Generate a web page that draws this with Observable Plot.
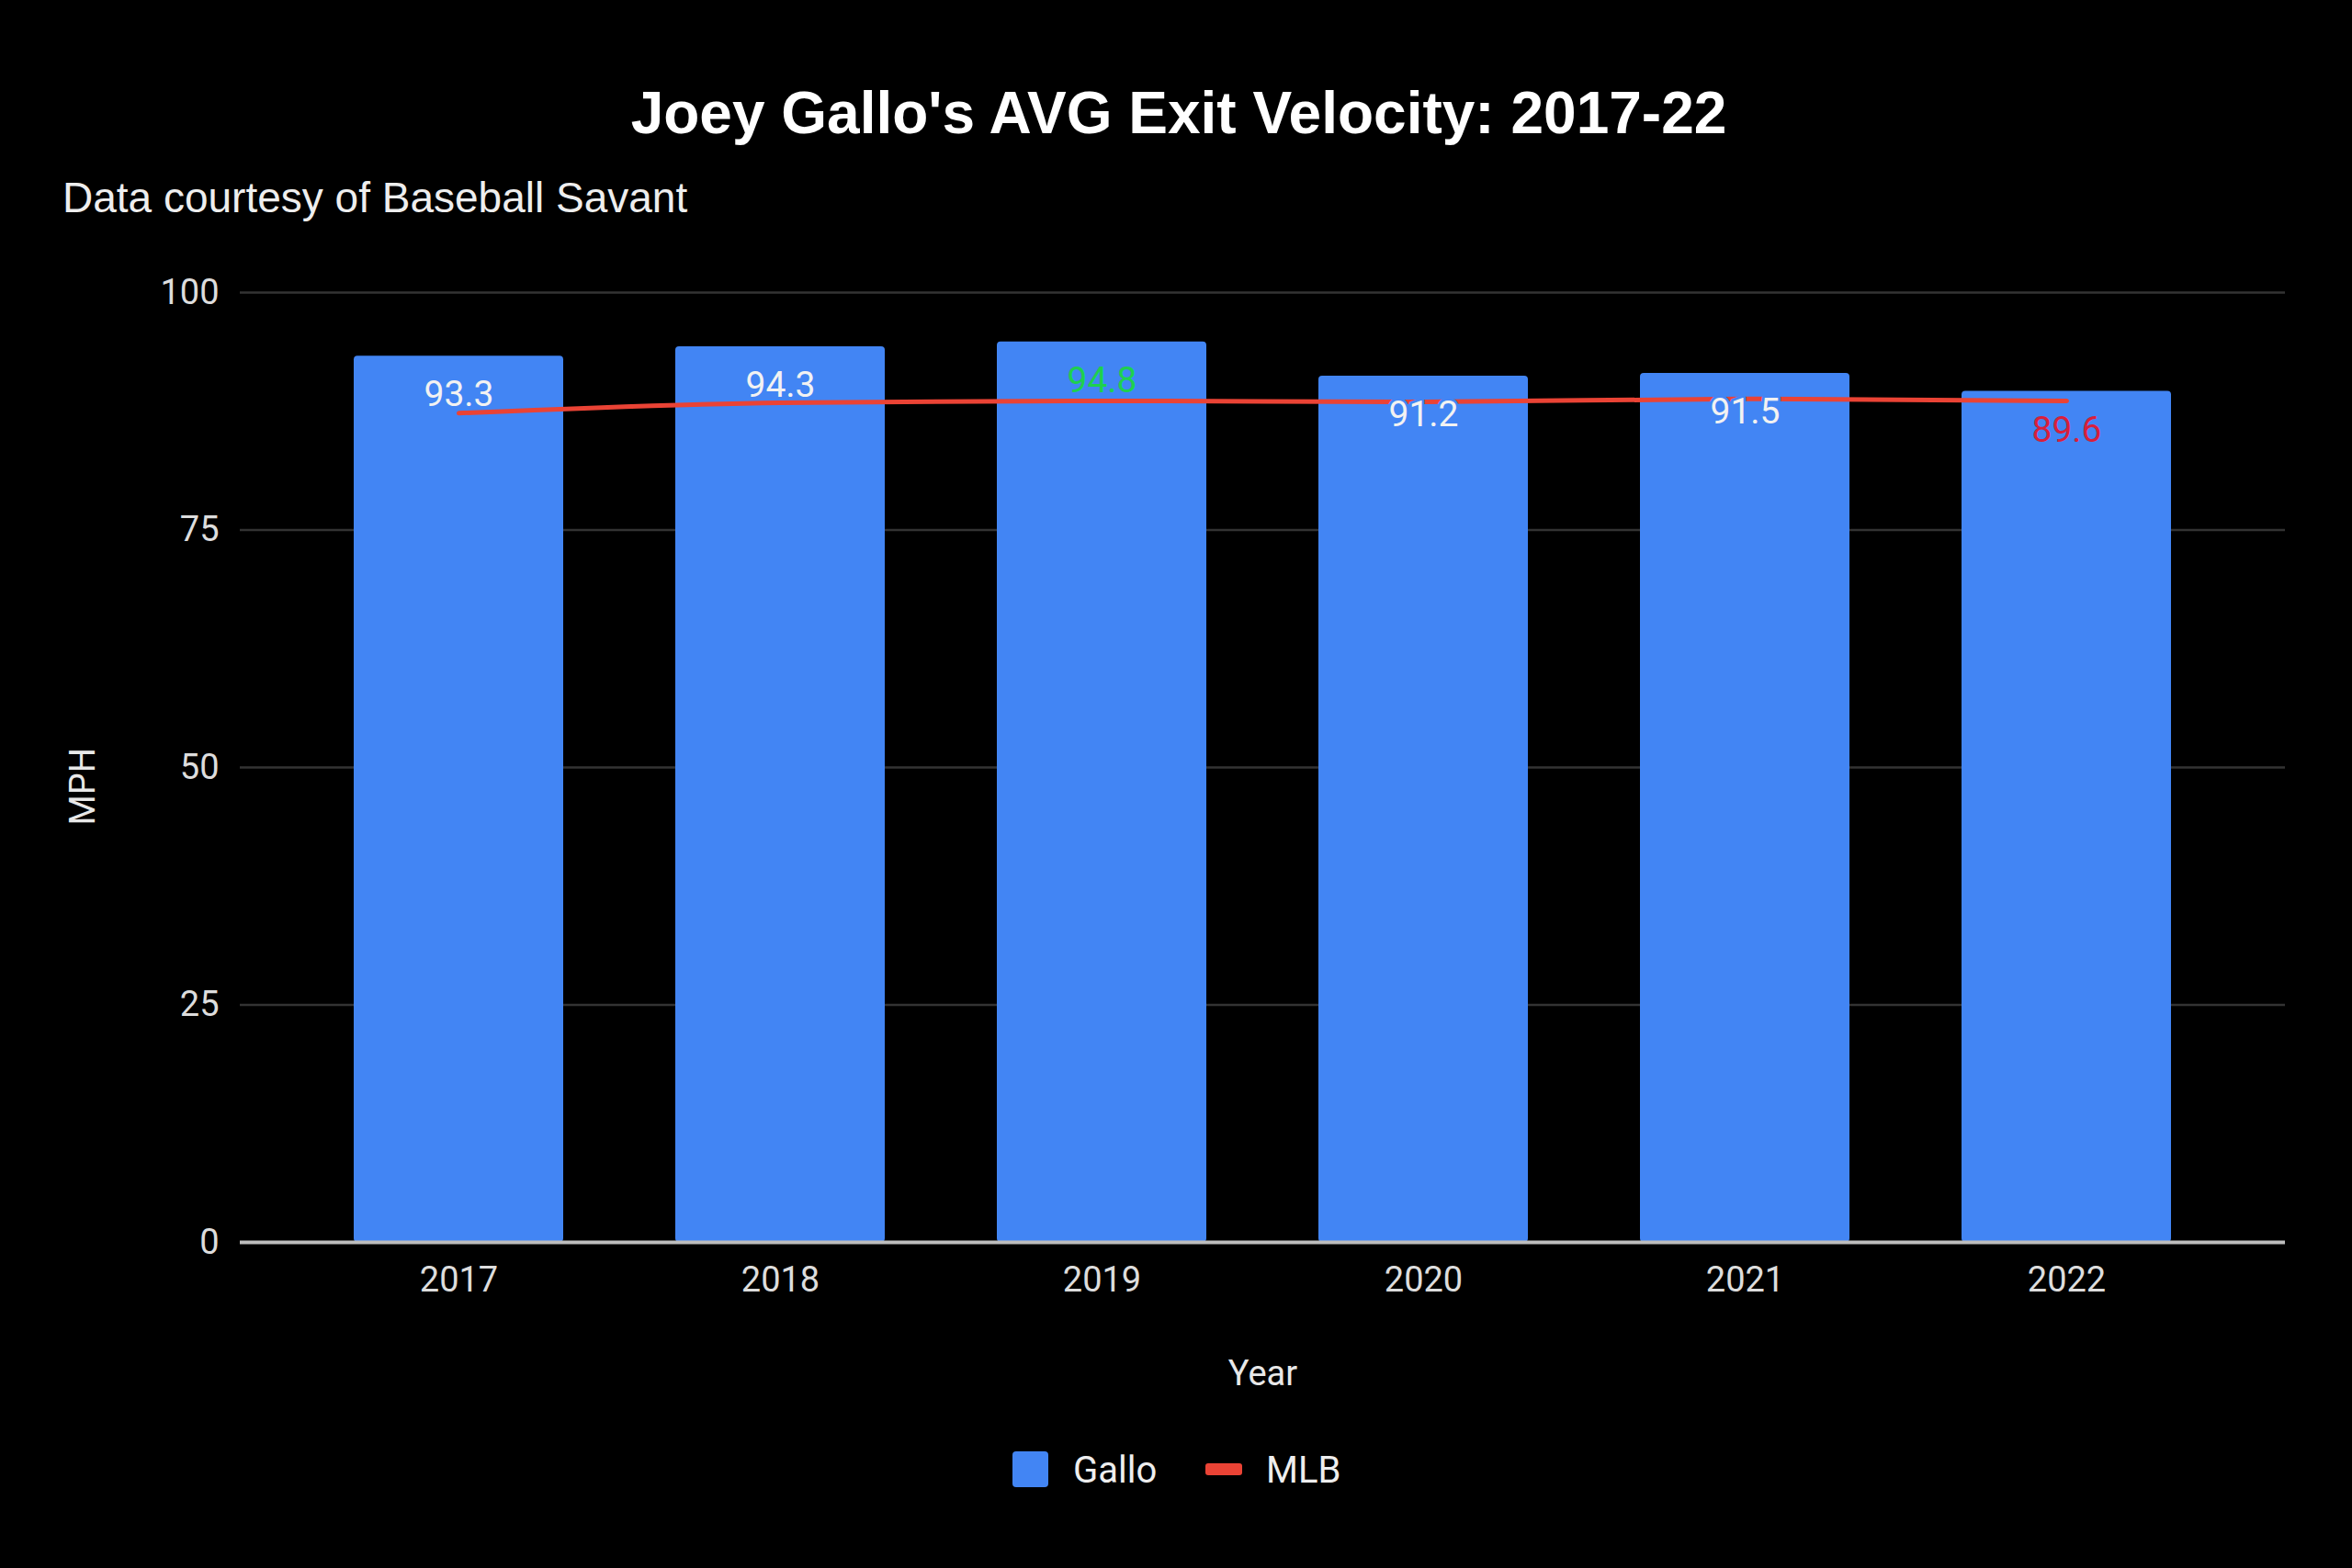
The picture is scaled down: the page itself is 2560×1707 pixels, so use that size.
<!DOCTYPE html>
<html>
<head>
<meta charset="utf-8">
<script src="https://cdn.jsdelivr.net/npm/d3@7"></script>
<script src="https://cdn.jsdelivr.net/npm/@observablehq/plot@0.6"></script>
<style>
  html, body { margin: 0; padding: 0; background: #000; }
  body { width: 2560px; height: 1707px; position: relative; overflow: hidden; font-family: Roboto, "Noto Sans", sans-serif; }
  .abs { position: absolute; line-height: 1; white-space: nowrap; font-family: "Liberation Sans", Arial, sans-serif; }
  #title { left: 3px; width: 2560px; text-align: center; top: 91px; font-size: 64px; font-weight: bold; color: #fff; }
  #subtitle { left: 68px; top: 192px; font-size: 46px; color: #eee; }
  #chart { position: absolute; left: 0; top: 260px; }
  .sw { position: absolute; }
  .lg { position: absolute; font-size: 40px; color: #eee; line-height: 1; top: 1581px; }
</style>
</head>
<body>
<div id="title" class="abs">Joey Gallo's AVG Exit Velocity: 2017-22</div>
<div id="subtitle" class="abs">Data courtesy of Baseball Savant</div>
<div id="chart"></div>
<div class="sw" style="left:1102px;top:1580px;width:39px;height:39px;background:#4285F4;border-radius:4px;"></div>
<div class="lg" style="left:1168px;">Gallo</div>
<div class="sw" style="left:1312px;top:1593px;width:40px;height:13px;background:#EA4335;border-radius:3px;"></div>
<div class="lg" style="left:1378px;">MLB</div>
<script>
const years = ["2017", "2018", "2019", "2020", "2021", "2022"];
const gallo = [93.3, 94.3, 94.8, 91.2, 91.5, 89.6];
const mlb = [87.3, 88.4, 88.6, 88.5, 88.8, 88.6];
const yTicks = [0, 25, 50, 75, 100];

const data = years.map((year, i) => ({year, gallo: gallo[i], mlb: mlb[i]}));
const maxV = d3.max(gallo), minV = d3.min(gallo);
const labelColor = d => d.gallo === maxV ? "#1ed04f" : d.gallo === minV ? "#d81f3c" : "#f2f2f2";

const chart = Plot.plot({
  width: 2560,
  height: 1280,
  marginTop: 58,
  marginBottom: 188,
  marginLeft: 261,
  marginRight: 73,
  style: {background: "#000", color: "#ddd", fontFamily: "Roboto, sans-serif", fontSize: "38px"},
  x: {type: "band", domain: years, padding: 0.35, label: null},
  y: {domain: [0, 100], label: null},
  marks: [
    Plot.ruleY(yTicks.filter(t => t !== 0), {stroke: "#333", strokeWidth: 2.5}),
    Plot.barY(data, {x: "year", y: "gallo", fill: "#4285F4", rx: 4}),
    Plot.ruleY([0], {stroke: "#bdbdbd", strokeWidth: 4}),
    Plot.line(data, {x: "year", y: "mlb", stroke: "#EA4335", strokeWidth: 5, curve: "monotone-x"}),
    Plot.text(data, {x: "year", y: "gallo", text: d => d.gallo.toFixed(1), dy: 42, fill: labelColor,
      stroke: "#4285F4", strokeWidth: 6, paintOrder: "stroke", fontSize: 39}),
    Plot.axisY({ticks: yTicks, tickSize: 0, tickPadding: 23, fontSize: 38, label: null, color: "#ddd"}),
    Plot.axisX({tickSize: 0, tickPadding: 27, fontSize: 38, label: null, color: "#ddd"}),
    Plot.text(["Year"], {frameAnchor: "bottom", dy: 155, text: d => d, fontSize: 38, fill: "#e8e8e8"}),
    Plot.text(["MPH"], {frameAnchor: "left", dx: -171, dy: 63, rotate: -90, text: d => d, fontSize: 38, fill: "#e8e8e8"})
  ]
});
document.getElementById("chart").appendChild(chart);
</script>
</body>
</html>
